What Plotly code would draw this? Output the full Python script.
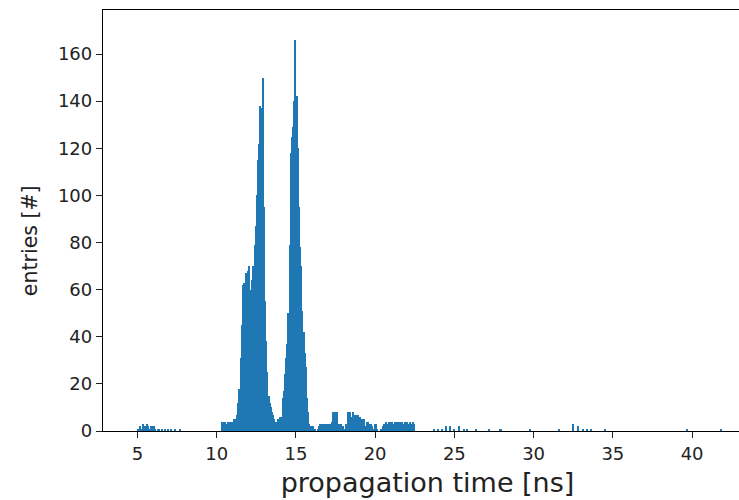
import plotly.graph_objects as go

# histogram binning (ns)
bin_width = 0.0736

# low-level early hits, bins starting at 5.0 ns
early_start = 5.0
early_counts = [1, 0, 2, 1, 3, 2, 2, 1, 3, 2, 1, 2, 2, 1, 2, 1, 0, 1, 1, 0,
                0, 1, 0, 1, 0, 0, 1, 0, 1, 0, 0, 0, 1, 0, 0, 0, 1]

# main structure, bins starting at 10.299 ns
main_start = 10.299
main_counts = [4, 4, 4, 4, 3, 4, 3, 4, 3, 4, 5, 4, 5, 7, 12, 18, 31, 45, 62, 63,
               62, 67, 68, 70, 60, 52, 64, 70, 79, 87, 100, 115, 122, 138, 137, 150, 95, 55, 38, 25,
               15, 12, 10, 8, 7, 5, 4, 3, 5, 3, 6, 6, 14, 17, 24, 31, 37, 50, 79, 118,
               125, 129, 140, 166, 142, 120, 95, 78, 70, 51, 42, 33, 27, 14, 8, 3, 2, 1, 2, 1,
               1, 0, 1, 2, 3, 3, 3, 3, 3, 3, 3, 3, 2, 3, 4, 8, 3, 8, 4, 8,
               3, 2, 3, 1, 2, 1, 3, 2, 8, 7, 8, 6, 8, 7, 6, 7, 3, 7, 6, 5,
               2, 5, 5, 2, 4, 4, 1, 3, 3, 2, 1, 3, 3, 1, 0, 0, 1, 0, 2, 3,
               3, 4, 3, 4, 3, 4, 4, 3, 4, 4, 4, 4, 3, 4, 4, 3, 3, 4, 3, 4,
               3, 4, 3, 2, 4, 3]

# sparse late hits (bin centre in ns, entries)
late_times = [23.7, 24.0, 24.2, 24.5, 24.7, 25.0, 25.3, 25.6, 25.8, 26.4, 27.2, 27.88, 27.95,
              29.8, 31.6, 32.5, 32.8, 33.1, 33.4, 33.6, 34.5, 39.7, 41.8]
late_counts = [1, 1, 1, 2, 2, 1, 2, 1, 1, 1, 1, 1, 1,
               1, 1, 3, 2, 1, 1, 1, 1, 1, 1]

x_ticks = [5, 10, 15, 20, 25, 30, 35, 40]
y_ticks = [0, 20, 40, 60, 80, 100, 120, 140, 160]

xs, ys = [], []
for i, c in enumerate(early_counts):
    xs.append(early_start + (i + 0.5) * bin_width)
    ys.append(c)
for i, c in enumerate(main_counts):
    xs.append(main_start + (i + 0.5) * bin_width)
    ys.append(c)
xs += late_times
ys += late_counts

fig = go.Figure()
fig.add_trace(go.Bar(x=xs, y=ys, width=bin_width,
                     marker=dict(color="#1f77b4", line=dict(width=0))))

font_family = "DejaVu Sans"
axis_common = dict(showline=True, linecolor="black", linewidth=1.3,
                   ticks="outside", ticklen=6, tickwidth=1.3, tickcolor="#222",
                   showgrid=False, zeroline=False, automargin=False,
                   tickfont=dict(family=font_family, size=18, color="#222"))

# the original axes box runs a little past the right edge of the picture
fig.update_layout(
    width=752, height=500,
    margin=dict(l=103, r=0, t=10, b=69, autoexpand=False),
    plot_bgcolor="white", paper_bgcolor="white",
    bargap=0, showlegend=False,
    xaxis=dict(range=[2.83, 43.78], tickvals=x_ticks, mirror=True,
               title=dict(text="propagation time [ns]", standoff=10,
                          font=dict(family=font_family, size=27, color="#222")),
               **axis_common),
    yaxis=dict(range=[0, 178.7], tickvals=y_ticks, mirror=True,
               **axis_common),
    annotations=[dict(text="entries [#]", textangle=-90, xref="paper", yref="paper",
                      x=-73 / 649, y=0.451, xanchor="center", yanchor="middle",
                      showarrow=False,
                      font=dict(family=font_family, size=20.5, color="#222"))],
)

fig.write_html("out.html", config={"displayModeBar": False},
               post_script="document.body.style.margin='0';document.body.style.overflow='hidden';")
